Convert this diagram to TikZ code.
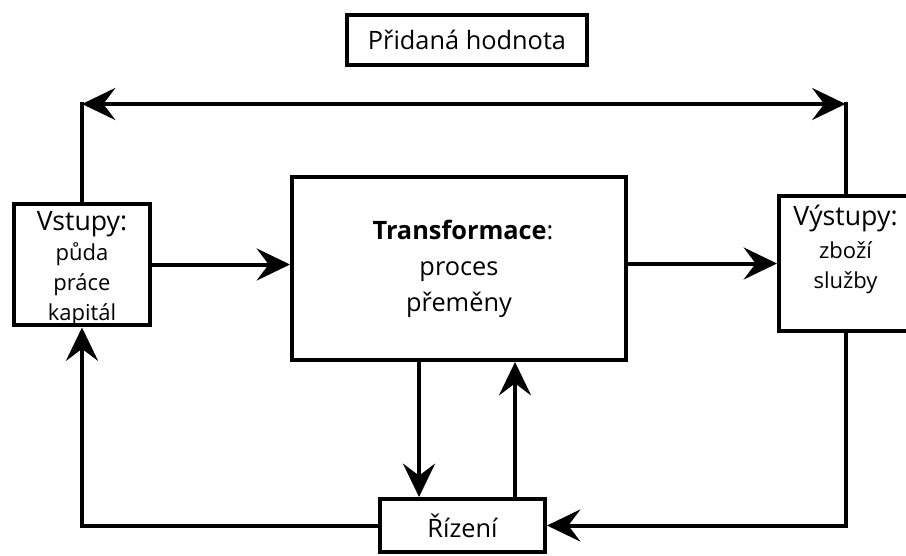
\documentclass[tikz,border=0pt]{standalone}
\usepackage{fontspec}
\setmainfont{Open Sans}
\usetikzlibrary{arrows.meta}
\tikzstyle{flowBox} = [shape=rectangle, draw=black, text=black, line width=3pt,
	align=center, fill=white, inner sep=0pt]
\tikzstyle{flowArrow} = [line width=3pt, >={Stealth[length=25pt,width=24pt,inset=9pt]}, ->, draw=black]
\tikzstyle{flowLine} = [line width=3pt, line cap=rect, draw=black]
\newcommand{\bigtext}{\fontsize{19}{23}\selectfont}
\newcommand{\smalltext}{\fontsize{16.5}{22.5}\selectfont}

\begin{document}
\begin{tikzpicture}[x=0.75pt, y=-0.75pt]
	\useasboundingbox (0,0) rectangle (906,556);
	\node (Value) at (467,40) [flowBox, minimum width=180pt, minimum height=37.5pt, font=\bigtext] {Přidaná hodnota};

	\node (Inputs) at (82,264.5) [flowBox, minimum width=102pt, minimum height=90.75pt, font=\smalltext]
		{{\fontsize{20}{24}\selectfont\rule{0pt}{20pt}Vstupy:}\\[0pt] půda\\ práce\\ kapitál};
	\node (Transform) at (459,268.5) [flowBox, minimum width=250.5pt, minimum height=137.25pt, font=\bigtext]
		{\hspace*{6pt}\textbf{Transformace}:\\[4pt] proces\\[4pt] přeměny};
	\node (Outputs) at (845.5,263.5) [flowBox, minimum width=99.75pt, minimum height=92.25pt, font=\smalltext]
		{{\fontsize{20}{24}\selectfont\rule{0pt}{22pt}Výstupy:}\\[2pt] zboží\\ služby\rule[-32pt]{0pt}{0pt}};
	\node (Control) at (462.5,525.5) [flowBox, minimum width=123.75pt, minimum height=39.75pt, font=\bigtext] {Řízení};

	% vazby mezi bloky
	\draw [flowArrow] (Inputs.east) -- (Inputs.east -| Transform.west);
	\draw [flowArrow] (Transform.east |- Outputs.west) -- (Outputs.west);

	\coordinate (TopLeft) at (Inputs.north |- 0,104);
	\coordinate (TopRight) at (Outputs.north |- 0,104);
	\draw [flowLine] (Inputs.north) -- (TopLeft);
	\draw [flowLine] (Outputs.north) -- (TopRight);
	\draw [flowArrow, <->] (TopLeft) -- (TopRight);

	\coordinate (DownArrow) at ([xshift=-32.6pt]Control.north);
	\coordinate (UpArrow) at ([xshift=39.4pt]Control.north);
	\draw [flowArrow] (DownArrow |- Transform.south) -- (DownArrow);
	\draw [flowArrow] (UpArrow) -- (UpArrow |- Transform.south);

	\draw [flowArrow] (Control.west) -| (Inputs.south);
	\draw [flowArrow] (Outputs.south) |- (Control.east);
\end{tikzpicture}
\end{document}
